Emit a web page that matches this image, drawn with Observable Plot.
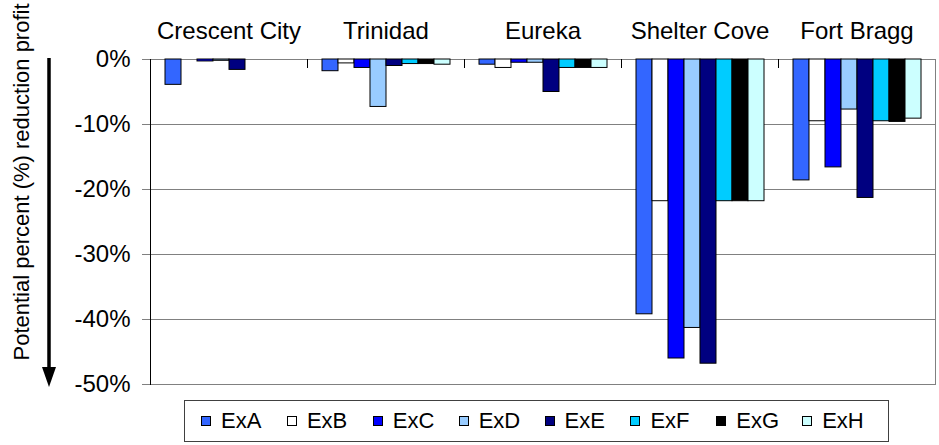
<!DOCTYPE html>
<html>
<head>
<meta charset="utf-8">
<script src="https://cdn.jsdelivr.net/npm/d3@7"></script>
<script src="https://cdn.jsdelivr.net/npm/@observablehq/plot@0.6"></script>
<style>
  html, body { margin: 0; padding: 0; background: #fff; }
  #wrap { position: relative; width: 939px; height: 445px; font-family: "Liberation Sans", Arial, sans-serif; }
  #wrap svg { position: absolute; left: 0; top: 0; }
  #legend { position: absolute; left: 184px; top: 400px; width: 705px; height: 42px; border: 1px solid #404040; box-sizing: border-box;
            display: flex; align-items: center; padding-left: 16px; font-size: 22px; color: #000; background: #fff; }
  .item { display: flex; align-items: center; width: 88px; }
  .sw { width: 10px; height: 10px; border: 1px solid #000; box-sizing: border-box; margin-right: 10px; }
</style>
</head>
<body>
<div id="wrap"></div>
<script>
const ports = ["Crescent City", "Trinidad", "Eureka", "Shelter Cove", "Fort Bragg"];
const series = ["ExA", "ExB", "ExC", "ExD", "ExE", "ExF", "ExG", "ExH"];
const colors = ["#3366FF", "#FFFFFF", "#0000FF", "#99CCFF", "#000080", "#00CCFF", "#000000", "#CCFFFF"];
const exA = [-3.9, -1.8, -0.8, -39.2, -18.6];
const exB = [0, -0.6, -1.3, -21.8, -9.5];
const exC = [-0.3, -1.3, -0.5, -46.0, -16.6];
const exD = [-0.2, -7.3, -0.5, -41.3, -7.7];
const exE = [-1.6, -1.0, -5.0, -46.8, -21.3];
const exF = [0, -0.7, -1.3, -21.8, -9.5];
const exG = [0, -0.7, -1.3, -21.8, -9.6];
const exH = [0, -0.8, -1.3, -21.8, -9.1];
const yTicks = [0, -10, -20, -30, -40, -50];
const yTitle = "Potential percent (%) reduction profit";

const seriesValues = [exA, exB, exC, exD, exE, exF, exG, exH];
const data = [];
series.forEach((s, si) => ports.forEach((p, pi) => {
  data.push({port: p, series: s, value: seriesValues[si][pi]});
}));

const plot = Plot.plot({
  width: 939,
  height: 445,
  marginTop: 59,
  marginBottom: 61,
  marginLeft: 148,
  marginRight: 2,
  style: {fontFamily: "'Liberation Sans', Arial, sans-serif", fontSize: "24px", color: "#000", background: "#fff"},
  fx: {domain: ports, padding: 0, axis: "top", label: null, tickSize: 0, tickPadding: 21},
  x: {domain: series, paddingInner: 0, paddingOuter: 0.7, axis: null},
  y: {domain: [-50, 0], axis: null},
  color: {domain: series, range: colors},
  marks: [
    Plot.gridY(yTicks, {stroke: "#808080", strokeOpacity: 1}),
    Plot.axisY(yTicks, {tickSize: 8, tickPadding: 12, tickFormat: d => `${d}%`, stroke: "#808080", fill: "#000", label: null, fontSize: 24}),
    Plot.barY(data.filter(d => d.value !== 0), {fx: "port", x: "series", y: "value", fill: "series", stroke: "#000", strokeWidth: 1}),
    Plot.frame({anchor: "right", stroke: "#808080", facetAnchor: "right"}),
    Plot.frame({anchor: "left", stroke: "#000", insetBottom: 317}),
    Plot.frame({anchor: "left", stroke: "#000", facetAnchor: "left"})
  ]
});

document.getElementById("wrap").appendChild(plot);

// y-axis title and downward arrow (annotation), positioned with the y scale
const y = plot.scale("y");
const svg = d3.select(plot);
const ax = 49;
const y0 = y.apply(0), y1 = y.apply(-50) + 3;
svg.append("line").attr("x1", ax).attr("x2", ax).attr("y1", y0 - 1).attr("y2", y1 - 18)
  .attr("stroke", "#000").attr("stroke-width", 3.5);
svg.append("path").attr("d", `M${ax - 7},${y1 - 20}L${ax + 7},${y1 - 20}L${ax},${y1}Z`).attr("fill", "#000");
svg.append("text").attr("transform", `translate(29,182) rotate(-90)`).attr("text-anchor", "middle")
  .attr("font-size", 22).attr("fill", "#000").text(yTitle);

// legend
const legend = d3.select("#wrap").append("div").attr("id", "legend");
series.forEach((s, i) => {
  const it = legend.append("div").attr("class", "item");
  it.append("div").attr("class", "sw").style("background", colors[i]);
  it.append("span").text(s);
});
</script>
</body>
</html>
